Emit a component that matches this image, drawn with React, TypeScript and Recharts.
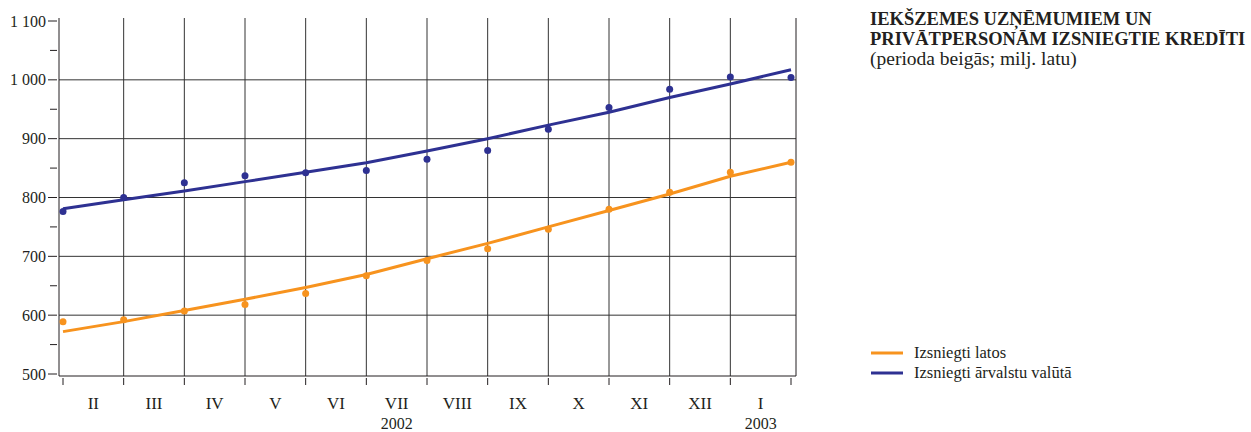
import React from "react";
import { ComposedChart, Line, XAxis, YAxis, CartesianGrid } from "recharts";

// mēneša beigas: I.2002 ... I.2003
const months = [0, 1, 2, 3, 4, 5, 6, 7, 8, 9, 10, 11, 12];
const monthLabels = ["II", "III", "IV", "V", "VI", "VII", "VIII", "IX", "X", "XI", "XII", "I"];
const yearLabels = [
  { month: 5, year: "2002" },
  { month: 11, year: "2003" },
];

const latosFakti = [589, 592, 607, 618, 637, 667, 693, 713, 746, 780, 809, 843, 860];
const latosTrend = [572, 589, 608, 627, 647, 669, 696, 722, 750, 778, 806, 836, 860];
const valutaFakti = [776, 800, 825, 837, 842, 846, 865, 880, 916, 953, 984, 1005, 1004];
const valutaTrend = [781, 796, 811, 827, 843, 859, 879, 900, 923, 945, 970, 993, 1017];

const yTicks = [500, 550, 600, 650, 700, 750, 800, 850, 900, 950, 1000, 1050, 1100];
const yGrid = [600, 700, 800, 900, 1000];
const xGrid = [1, 2, 3, 4, 5, 6, 7, 8, 9, 10, 11];
const xTicks = months.concat(monthLabels.map((_, i) => i + 0.5));

const ORANGE = "#F7931E";
const BLUE = "#2E3192";
const INK = "#231F20";
const FONT = "'Liberation Serif', 'Times New Roman', serif";

const data = months.map((m, i) => ({
  m,
  latos: latosFakti[i],
  latosTrend: latosTrend[i],
  valuta: valutaFakti[i],
  valutaTrend: valutaTrend[i],
}));

const fmt = (v: number) => (v >= 1000 ? `${Math.floor(v / 1000)} ${String(v % 1000).padStart(3, "0")}` : String(v));

function MonthTick(props: any) {
  const { x, y, payload } = props;
  const v = payload.value;
  if (Number.isInteger(v)) {
    return <line x1={x} x2={x} y1={y} y2={y + 7} stroke={INK} strokeWidth={1} />;
  }
  const idx = Math.floor(v);
  const yr = yearLabels.find((d) => d.month === idx);
  return (
    <g>
      <text x={x} y={y + 31} textAnchor="middle" fontSize={17} fill={INK} fontFamily={FONT}>
        {monthLabels[idx]}
      </text>
      {yr && (
        <text x={x} y={y + 51} textAnchor="middle" fontSize={16} fill={INK} fontFamily={FONT}>
          {yr.year}
        </text>
      )}
    </g>
  );
}

function LeftTick(props: any) {
  const { x, y, payload } = props;
  const major = payload.value % 100 === 0;
  return (
    <g>
      <line x1={x - (major ? 9 : 7)} x2={x} y1={y} y2={y} stroke={INK} />
      {major && (
        <text x={x - 11} y={y} dy="0.35em" textAnchor="end" fontSize={16} fill={INK} fontFamily={FONT}>
          {fmt(payload.value)}
        </text>
      )}
    </g>
  );
}

function RightTick(props: any) {
  const { x, y, payload } = props;
  const major = payload.value % 100 === 0;
  return (
    <g>
      <line x1={x} x2={x + (major ? 9 : 6)} y1={y} y2={y} stroke={INK} />
      {major && (
        <text x={x + 10} y={y} dy="0.35em" textAnchor="start" fontSize={16} fill={INK} fontFamily={FONT}>
          {fmt(payload.value)}
        </text>
      )}
    </g>
  );
}

const legendItems = [
  { label: "Izsniegti latos", color: ORANGE },
  { label: "Izsniegti ārvalstu valūtā", color: BLUE },
];

export default function App() {
  return (
    <div style={{ position: "absolute", left: 0, top: 0, width: 1251, height: 432, fontFamily: FONT, color: INK }}>
      <ComposedChart width={1251} height={432} data={data} margin={{ top: 18, right: 405, bottom: 0, left: 0 }}>
        <CartesianGrid
          stroke="#333"
          strokeWidth={1}
          horizontalValues={yGrid}
          verticalValues={xGrid}
        />
        <XAxis
          dataKey="m"
          type="number"
          domain={[0, 12]}
          ticks={xTicks}
          interval={0}
          padding={{ left: 4, right: 5 }}
          height={56}
          tickSize={0}
          tickLine={false}
          tick={<MonthTick />}
          axisLine={{ stroke: INK }}
        />
        <XAxis
          xAxisId="top"
          orientation="top"
          dataKey="m"
          type="number"
          domain={[0, 12]}
          padding={{ left: 4, right: 5 }}
          height={0}
          tick={false}
          tickLine={false}
          axisLine={{ stroke: INK }}
        />
        <YAxis
          domain={[500, 1100]}
          ticks={yTicks}
          interval={0}
          width={59}
          padding={{ top: 3, bottom: 2 }}
          tickSize={0}
          tickLine={false}
          tick={<LeftTick />}
          axisLine={{ stroke: INK }}
        />
        <YAxis
          yAxisId="r"
          orientation="right"
          domain={[500, 1100]}
          ticks={yTicks}
          interval={0}
          width={50}
          padding={{ top: 3, bottom: 2 }}
          tickSize={0}
          tickLine={false}
          tick={<RightTick />}
          axisLine={{ stroke: INK }}
        />
        <Line dataKey="latosTrend" stroke={ORANGE} strokeWidth={3} dot={false} activeDot={false} isAnimationActive={false} type="linear" />
        <Line dataKey="valutaTrend" stroke={BLUE} strokeWidth={3} dot={false} activeDot={false} isAnimationActive={false} type="linear" />
        <Line dataKey="latos" stroke="none" dot={{ r: 3.5, fill: ORANGE, stroke: "none" }} activeDot={false} isAnimationActive={false} />
        <Line dataKey="valuta" stroke="none" dot={{ r: 3.5, fill: BLUE, stroke: "none" }} activeDot={false} isAnimationActive={false} />
      </ComposedChart>

      <div style={{ position: "absolute", left: 870, top: 10, lineHeight: "19.5px", whiteSpace: "nowrap" }}>
        <div style={{ fontWeight: "bold", fontSize: 18.5 }}>IEKŠZEMES UZŅĒMUMIEM UN</div>
        <div style={{ fontWeight: "bold", fontSize: 18.5 }}>PRIVĀTPERSONĀM IZSNIEGTIE KREDĪTI</div>
        <div style={{ fontSize: 19.5 }}>(perioda beigās; milj. latu)</div>
      </div>

      <div style={{ position: "absolute", left: 871, top: 343, whiteSpace: "nowrap" }}>
        {legendItems.map((it) => (
          <div key={it.label} style={{ display: "flex", alignItems: "center", height: 20 }}>
            <svg width={32} height={4} style={{ marginRight: 11 }}>
              <line x1={0} x2={32} y1={2} y2={2} stroke={it.color} strokeWidth={3} />
            </svg>
            <span style={{ fontSize: 16.5 }}>{it.label}</span>
          </div>
        ))}
      </div>
    </div>
  );
}
